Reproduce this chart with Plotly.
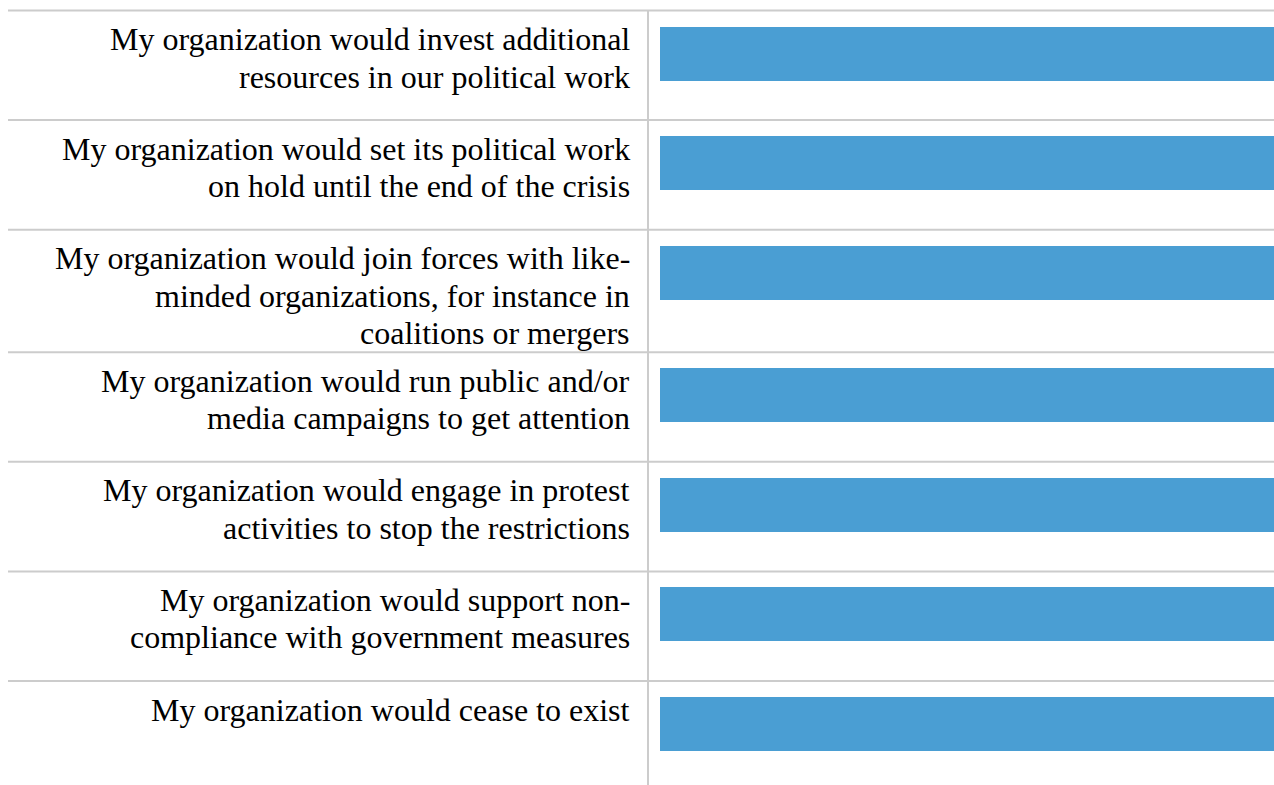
import plotly.graph_objects as go

# ---- data ----
labels = [
    "My organization would invest additional<br>resources in our political work",
    "My organization would set its political work<br>on hold until the end of the crisis",
    "My organization would join forces with like-<br>minded organizations, for instance in<br>coalitions or mergers",
    "My organization would run public and/or<br>media campaigns to get attention",
    "My organization would engage in protest<br>activities to stop the restrictions",
    "My organization would support non-<br>compliance with government measures",
    "My organization would cease to exist",
]
values = [100, 100, 100, 100, 100, 100, 100]
x_max = 100

# ---- layout constants (pixels) ----
W, H = 1274, 785
top0 = 10.5
line_h = 37.5
min_row_h = 109.6
row_pad = 10
bar_off = 16
bar_h = 54
bar_left_px = 660
vline_px = 648
label_right_px = 632
sep_left_px = 8
font_size = 32
first_center_off = 28.5

# row tops from number of text lines
row_tops = []
t = top0
for lab in labels:
    row_tops.append(t)
    n = len(lab.split("<br>"))
    t += max(min_row_h, line_h * n + row_pad)

bar_centers = [rt + bar_off + bar_h / 2 for rt in row_tops]

# x range so that 0 lands at bar_left_px and x_max at right edge
frac = bar_left_px / W
x_min = -frac * x_max / (1 - frac)

fig = go.Figure()
fig.add_trace(go.Bar(
    x=values, y=bar_centers, orientation="h", width=bar_h, base=0,
    marker=dict(color="#4A9ED3", line=dict(width=0)),
    hoverinfo="skip", showlegend=False,
))

shapes = []
for rt in row_tops:
    shapes.append(dict(type="line", xref="paper", yref="y",
                       x0=sep_left_px / W, x1=1, y0=rt, y1=rt,
                       line=dict(color="#CCCCCC", width=2)))
shapes.append(dict(type="line", xref="paper", yref="y",
                   x0=vline_px / W, x1=vline_px / W, y0=top0, y1=H,
                   line=dict(color="#CCCCCC", width=2)))

annotations = []
for rt, lab in zip(row_tops, labels):
    for j, ln in enumerate(lab.split("<br>")):
        annotations.append(dict(
            text=ln, xref="paper", yref="y",
            x=label_right_px / W, y=rt + first_center_off + j * line_h,
            xanchor="right", yanchor="middle", align="right", showarrow=False,
            font=dict(family="Liberation Serif, Times New Roman, serif",
                      size=font_size, color="#000000"),
        ))

fig.update_layout(
    width=W, height=H,
    margin=dict(l=0, r=0, t=0, b=0),
    paper_bgcolor="white", plot_bgcolor="white",
    xaxis=dict(range=[x_min, x_max], visible=False, fixedrange=True),
    yaxis=dict(range=[H, 0], visible=False, fixedrange=True),
    shapes=shapes, annotations=annotations,
    bargap=0, showlegend=False,
)

fig.write_html("out.html")
